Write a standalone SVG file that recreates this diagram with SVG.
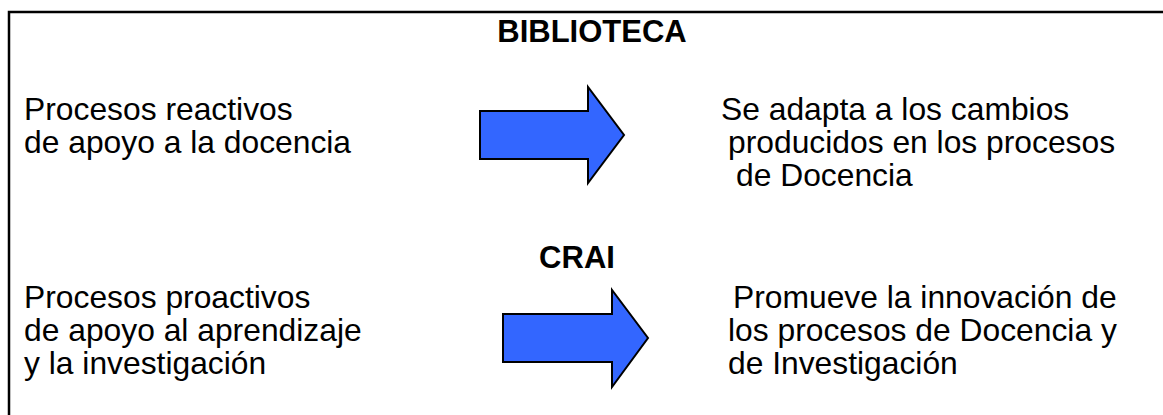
<svg xmlns="http://www.w3.org/2000/svg" width="1163" height="415" viewBox="0 0 1163 415">
<style>
.t{font-family:"Liberation Sans",Arial,sans-serif;font-size:31.8px;fill:#000}
.h{font-family:"Liberation Sans",Arial,sans-serif;font-size:31px;font-weight:bold;fill:#000}
.arr{fill:#3366FF;stroke:#000;stroke-width:2;stroke-linejoin:miter}
</style>
<rect x="0" y="0" width="1163" height="415" fill="#fff"/>
<rect x="9" y="12" width="1160" height="420" fill="none" stroke="#000" stroke-width="2.5"/>
<g id="titulo-biblioteca"><text class="h" x="592" y="42" text-anchor="middle">BIBLIOTECA</text></g>
<g id="reactivos"><text class="t" x="24" y="120">Procesos reactivos</text><text class="t" x="24" y="153">de apoyo a la docencia</text></g>
<g id="adapta"><text class="t" x="721" y="120">Se adapta a los cambios</text><text class="t" x="728" y="153">producidos en los procesos</text><text class="t" x="736" y="186">de Docencia</text></g>
<g id="titulo-crai"><text class="h" x="577" y="268" text-anchor="middle">CRAI</text></g>
<g id="proactivos"><text class="t" x="24" y="308">Procesos proactivos</text><text class="t" x="24" y="341">de apoyo al aprendizaje</text><text class="t" x="24" y="374">y la investigación</text></g>
<g id="promueve"><text class="t" x="733" y="308">Promueve la innovación de</text><text class="t" x="728" y="341">los procesos de Docencia y</text><text class="t" x="728" y="374">de Investigación</text></g>
<g id="connectors">
<polygon class="arr" points="480,111 588,111 588,87 624,135 588,183 588,159 480,159"/>
<polygon class="arr" points="503,314 612,314 612,290 648,338 612,387 612,362 503,362"/>
</g>
</svg>
